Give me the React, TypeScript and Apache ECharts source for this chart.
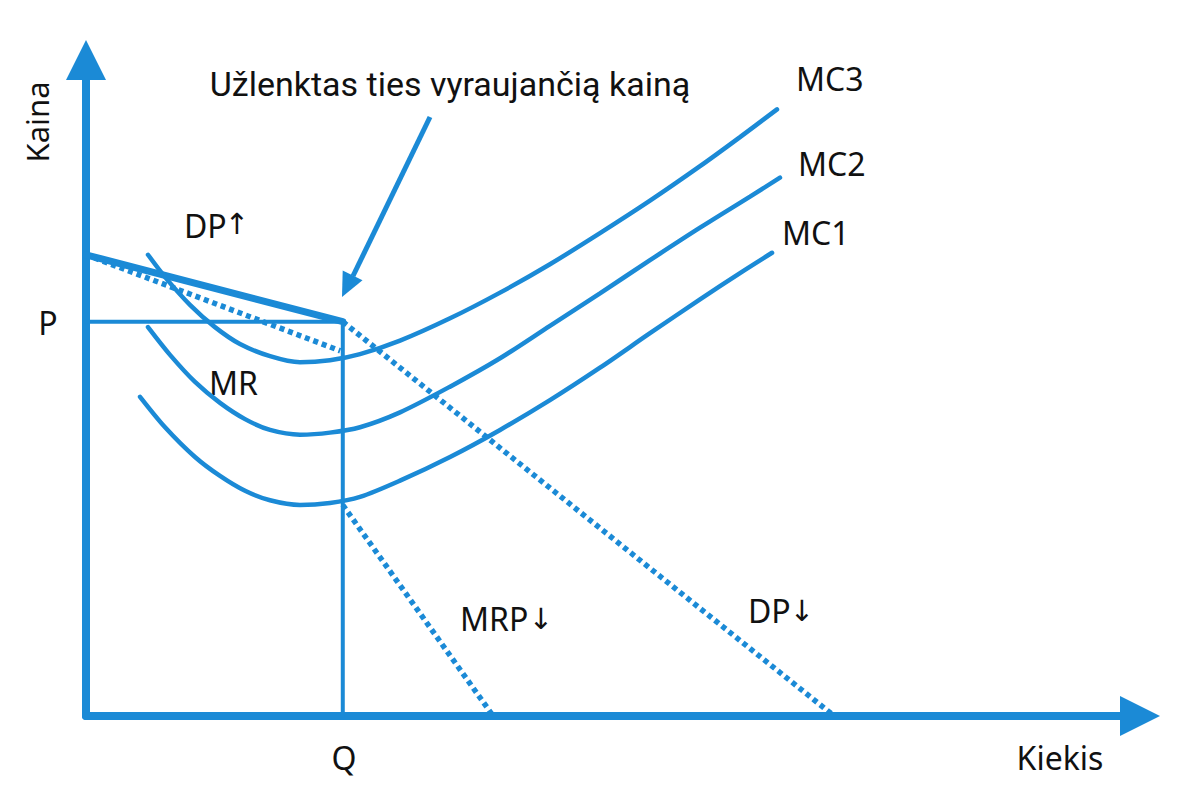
import React, { useEffect, useRef } from 'react';
import * as echarts from 'echarts';

const BLUE = '#1b8ad6';
const TEXT = '#111111';

// kink point (Q, P) in chart units
const qValue = 24.85;
const pValue = 58.3;

// marginal cost curves
const mc1 = [[5.23, 47.2], [7.65, 42.7], [10.55, 38.3], [12.97, 35.5], [15.39, 33.3], [17.81, 31.9], [20.71, 31.2], [23.61, 31.5], [26.52, 32.4], [30.39, 34.8], [35.23, 38.3], [40.07, 42.3], [44.9, 46.7], [49.74, 51.5], [54.58, 56.6], [59.42, 61.6], [63.29, 65.5], [66.39, 68.5]];
const mc2 = [[6.0, 57.5], [8.13, 53.4], [10.55, 49.4], [12.97, 46.3], [15.39, 43.9], [17.81, 42.3], [20.71, 41.6], [23.61, 41.9], [26.52, 42.7], [30.39, 44.9], [35.23, 48.7], [40.07, 52.9], [44.9, 57.7], [49.74, 62.5], [54.58, 67.4], [59.42, 72.2], [64.26, 76.8], [67.16, 79.6]];
const mc3 = [[6.0, 68.2], [7.65, 64.9], [10.06, 60.8], [12.48, 57.5], [14.9, 55.0], [17.81, 53.2], [20.71, 52.3], [23.61, 52.6], [26.52, 53.5], [30.39, 55.5], [35.23, 58.8], [40.07, 62.6], [44.9, 66.8], [49.74, 71.4], [54.58, 76.2], [59.42, 81.3], [63.29, 85.6], [66.87, 89.7]];

// demand / revenue lines
const demandUpper = [[0, 68.2], [qValue, pValue]];
const dpUpDotted = [[0, 68.2], [24.6, 54.0]];
const dpDownDotted = [[qValue, pValue], [72.4, 0]];
const mrpDownDotted = [[qValue, 31.2], [39.4, 0]];
const priceLine = [[0, pValue], [qValue, pValue]];
const quantityLine = [[qValue, 0], [qValue, pValue]];

const labelFont = '"Noto Sans", "DejaVu Sans", sans-serif';

const App: React.FC = () => {
	const chartRef = useRef<HTMLDivElement>(null);

	useEffect(() => {
		if (!chartRef.current) return;
		const chart = echarts.init(chartRef.current, undefined, { renderer: 'svg' });

		const solid = (data: number[][], width: number, z = 2) => ({
			type: 'line',
			data,
			showSymbol: false,
			smooth: data.length > 2 ? 0.3 : false,
			lineStyle: { color: BLUE, width, cap: 'round' },
			z,
			silent: true
		});
		const dotted = (data: number[][]) => ({
			type: 'line',
			data,
			showSymbol: false,
			lineStyle: { color: BLUE, width: 5.5, type: [5, 4], cap: 'butt' },
			z: 1,
			silent: true
		});

		const label = (text: string, x: number, y: number, align = 'left', size = 32) => ({
			type: 'text',
			x,
			y,
			style: { text, fill: TEXT, font: `${size}px ${labelFont}`, align, verticalAlign: 'middle' }
		});
		// thin arrow glyph, placed right after a label
		const arrow = (glyph: string, x: number, y: number) => ({
			type: 'text',
			x,
			y,
			style: {
				text: glyph,
				fill: TEXT,
				font: '29px "DejaVu Sans", sans-serif',
				align: 'center',
				verticalAlign: 'middle'
			}
		});

		const axisCommon = {
			type: 'value',
			min: 0,
			axisLine: {
				show: true,
				symbol: ['none', 'triangle'],
				symbolSize: [40, 40],
				lineStyle: { color: BLUE, width: 8 }
			},
			axisTick: { show: false },
			axisLabel: { show: false },
			splitLine: { show: false }
		};

		chart.setOption({
			animation: false,
			backgroundColor: '#ffffff',
			grid: { left: 86, top: 60, right: 60, bottom: 84 },
			xAxis: { ...axisCommon, max: 102 },
			yAxis: { ...axisCommon, max: 97 },
			series: [
				dotted(dpUpDotted),
				dotted(dpDownDotted),
				dotted(mrpDownDotted),
				solid(priceLine, 4),
				solid(quantityLine, 4),
				solid(mc1, 4.5),
				solid(mc2, 4.5),
				solid(mc3, 4.5),
				solid(demandUpper, 7, 3)
			],
			graphic: [
				{
					type: 'text',
					x: 450,
					y: 84,
					style: {
						text: 'Užlenktas ties vyraujančią kainą',
						fill: TEXT,
						font: '34px Roboto, sans-serif',
						align: 'center',
						verticalAlign: 'middle'
					}
				},
				{
					type: 'line',
					shape: { x1: 430, y1: 117, x2: 353, y2: 276 },
					style: { stroke: BLUE, lineWidth: 5 }
				},
				{
					type: 'polygon',
					shape: { points: [[342, 297], [362.5, 280.2], [342.7, 270.6]] },
					style: { fill: BLUE }
				},
				label('MC3', 796, 78),
				label('MC2', 798, 163),
				label('MC1', 782, 232),
				label('DP', 184, 225),
				arrow('↑', 237, 224),
				label('MR', 209, 382),
				label('MRP', 460, 618),
				arrow('↓', 541, 619),
				label('DP', 748, 610),
				arrow('↓', 802, 611),
				label('P', 48, 322, 'center'),
				label('Q', 344, 757, 'center'),
				label('Kiekis', 1060, 757, 'center'),
				{
					type: 'text',
					x: 37,
					y: 122,
					rotation: Math.PI / 2,
					style: {
						text: 'Kaina',
						fill: TEXT,
						font: `31px ${labelFont}`,
						align: 'center',
						verticalAlign: 'middle'
					}
				}
			]
		});

		return () => {
			chart.dispose();
		};
	}, []);

	return (
		<div
			ref={chartRef}
			style={{ position: 'absolute', left: 0, top: 0, width: '1200px', height: '800px' }}
		/>
	);
};

export default App;
